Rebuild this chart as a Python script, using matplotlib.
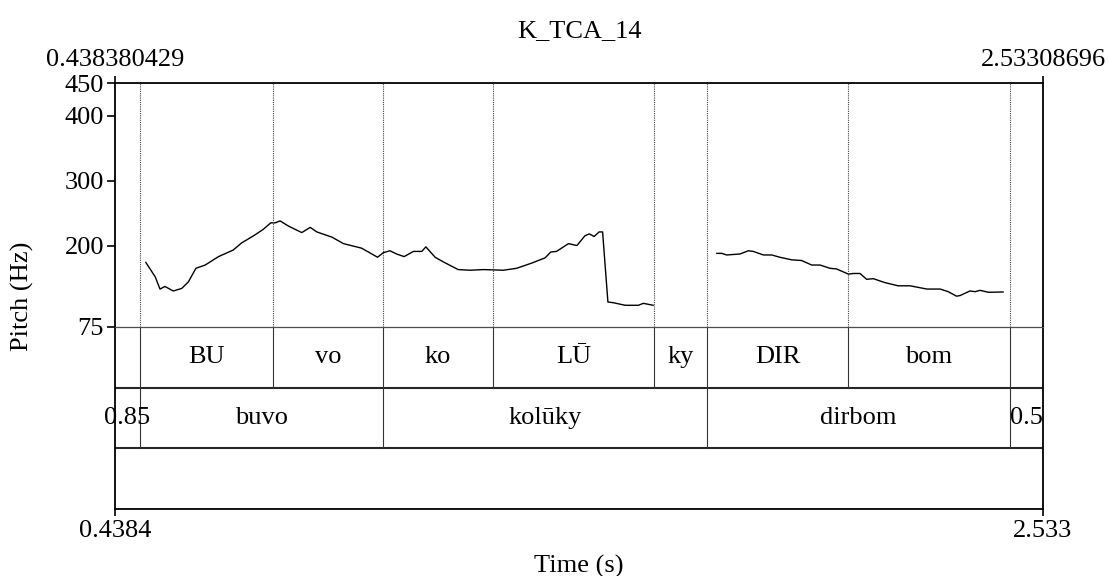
import numpy as np
import matplotlib
matplotlib.use('Agg')
import matplotlib.pyplot as plt

plt.rcParams['font.family'] = ['Liberation Serif', 'DejaVu Serif']

# time range of the file
t_start = 0.438380429
t_end = 2.53308696
title = 'K_TCA_14'

# pitch track (s, Hz), two voiced stretches
t1 = [0.508, 0.529, 0.540, 0.551, 0.570, 0.589, 0.604, 0.621, 0.642, 0.672,
      0.705, 0.724, 0.751, 0.773, 0.790, 0.800, 0.811, 0.830, 0.860, 0.879,
      0.894, 0.928, 0.954, 0.995, 1.031, 1.044, 1.059, 1.074, 1.091, 1.112,
      1.131, 1.140, 1.161, 1.179, 1.213, 1.240, 1.270, 1.315, 1.345, 1.379,
      1.409, 1.422, 1.435, 1.462, 1.481, 1.499, 1.509, 1.520, 1.531, 1.539,
      1.551, 1.563, 1.590, 1.620, 1.631, 1.653]
f1 = [174, 152, 133, 137, 130, 134, 144, 165, 170, 183,
      193, 204, 215, 225, 235, 235, 238, 230, 220, 228,
      221, 213, 203, 196, 182, 189, 192, 187, 183, 191,
      191, 198, 182, 175, 163, 162, 163, 162, 165, 173,
      181, 190, 191, 203, 200, 215, 218, 214, 221, 221,
      113, 112, 108, 108, 111, 108]
t2 = [1.797, 1.808, 1.819, 1.849, 1.868, 1.879, 1.902, 1.921, 1.939, 1.966,
      1.988, 2.011, 2.030, 2.052, 2.067, 2.094, 2.105, 2.120, 2.135, 2.150,
      2.176, 2.206, 2.233, 2.271, 2.301, 2.319, 2.338, 2.346, 2.368, 2.380,
      2.391, 2.410, 2.443]
f2 = [188, 188, 185.5, 187, 192, 191, 185.5, 185.5, 182, 178,
      177, 170, 170, 165, 164, 156, 157, 157, 148, 149,
      143, 138, 138, 133, 133, 129, 122, 123, 130, 129,
      131, 128, 128.5]

# tier 1: syllables
syl_bounds = [0.4948, 0.7950, 1.0433, 1.2916, 1.6550, 1.7746, 2.0929, 2.4586]
syl_labels = ['', 'BU', 'vo', 'ko', 'LŪ', 'ky', 'DIR', 'bom', '']
# tier 2: words
word_bounds = [0.4948, 1.0433, 1.7746, 2.4586]
word_labels = ['0.85', 'buvo', 'kolūky', 'dirbom', '0.5']

pitch_ticks = [75, 200, 300, 400, 450]

fs = 19
fig = plt.figure(figsize=(11.09, 5.76), dpi=100)
L, W = 115 / 1109, 928 / 1109
# textgrid axes first so the pitch frame is drawn over it
tg = fig.add_axes([L, 1 - 509.3 / 576, W, (509.3 - 326.7) / 576])
ax = fig.add_axes([L, 1 - 326.7 / 576, W, (326.7 - 83.3) / 576])
ax.patch.set_alpha(0)

# pitch
ax.plot(t1, f1, color='black', lw=1.0)
ax.plot(t2, f2, color='black', lw=1.0)
for b in syl_bounds:
    ax.axvline(b, color='0.25', lw=0.8, ls=(0, (1, 1)))
ax.set_xlim(t_start, t_end)
ax.set_ylim(75, 450)
ax.set_yticks(pitch_ticks)
ax.set_yticklabels([str(v) for v in pitch_ticks], fontsize=fs)
ax.tick_params(axis='y', direction='out', length=6, width=1.2, pad=2)
ax.xaxis.tick_top()
ax.set_xticks([t_start, t_end])
ax.set_xticklabels(['0.438380429', '2.53308696'], fontsize=fs)
ax.tick_params(axis='x', direction='out', length=5, width=1.2, pad=4)
for s in ['left', 'right', 'top']:
    ax.spines[s].set_linewidth(1.3)
ax.spines['bottom'].set_linewidth(0.9)
ax.spines['bottom'].set_color('0.3')

# textgrid
tg.set_xlim(t_start, t_end)
tg.set_ylim(0, 3)
tg.axhline(2, color='0.15', lw=1.5)
tg.axhline(1, color='0.15', lw=1.5)
for b in syl_bounds:
    tg.plot([b, b], [2, 3], color='0.2', lw=0.8)
for b in word_bounds:
    tg.plot([b, b], [1, 2], color='0.2', lw=0.8)
edges = [t_start] + syl_bounds + [t_end]
for i, lab in enumerate(syl_labels):
    tg.text((edges[i] + edges[i + 1]) / 2, 2.5, lab, ha='center', va='center', fontsize=fs)
edges = [t_start] + word_bounds + [t_end]
for i, lab in enumerate(word_labels):
    tg.text((edges[i] + edges[i + 1]) / 2, 1.5, lab, ha='center', va='center', fontsize=fs)
tg.set_yticks([])
tg.set_xticks([t_start, t_end])
tg.set_xticklabels(['0.4384', '2.533'], fontsize=fs)
tg.tick_params(axis='x', direction='out', length=5, width=1.2, pad=3)
for s in ['left', 'right', 'bottom']:
    tg.spines[s].set_linewidth(1.3)
tg.spines['top'].set_visible(False)

fig.text((115 + 1043) / 2 / 1109, 1 - 37 / 576, title, ha='center', va='baseline', fontsize=fs)
fig.text((115 + 1043) / 2 / 1109, 1 - 566 / 576, 'Time (s)', ha='center', va='center', fontsize=fs)
fig.text(22 / 1109, 1 - 296 / 576, 'Pitch (Hz)', ha='center', va='center', rotation=90, fontsize=fs)

fig.savefig('out.png', dpi=100)
